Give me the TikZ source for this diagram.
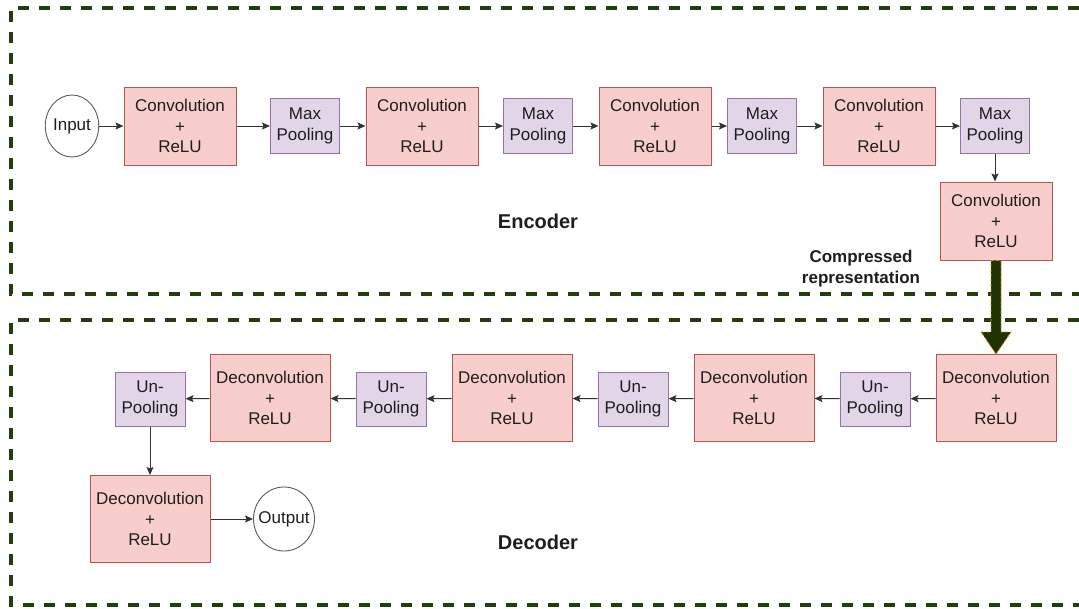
\documentclass[tikz,border=0pt]{standalone}
\usepackage{fontspec}
\setmainfont{Liberation Sans}
\usetikzlibrary{arrows.meta,calc,shapes.geometric}
\definecolor{convfill}{HTML}{F8CECC}
\definecolor{convline}{HTML}{B85450}
\definecolor{poolfill}{HTML}{E1D5E7}
\definecolor{poolline}{HTML}{9673A6}
\definecolor{frame}{HTML}{243D0E}
\definecolor{txt}{HTML}{1E1E1E}
\definecolor{wire}{HTML}{333333}
\definecolor{bigarrow}{HTML}{1F3300}
\definecolor{bigedge}{HTML}{C9892A}
\begin{document}
\begin{tikzpicture}[x=1pt,y=-1pt,
  every node/.style={text=txt,font=\fontsize{17}{20.5}\selectfont,align=center,inner sep=0pt},
  convbox/.style={draw=convline,fill=convfill,line width=1pt,minimum width=112pt,minimum height=78pt},
  deconvbox/.style={draw=convline,fill=convfill,line width=1pt,minimum width=120pt,minimum height=87pt},
  poolbox/.style={draw=poolline,fill=poolfill,line width=1pt,minimum width=69pt,minimum height=55pt},
  term/.style={draw=wire!80,fill=white,line width=0.9pt,ellipse},
  link/.style={draw=wire,line width=1pt,-{Stealth[length=8pt,width=7pt,inset=1.5pt]}},
  framed/.style={draw=frame,line width=3.8pt,dash pattern=on 11pt off 10pt},
  heading/.style={font=\fontsize{20}{24}\selectfont\bfseries},
  note/.style={font=\fontsize{17}{21}\selectfont\bfseries}]
\useasboundingbox (0,0) rectangle (1079,608);

% encoder and decoder frames
\draw[framed] (1079,8) -- (11,8) -- (11,294) -- (1079,294);
\draw[framed] (1079,320) -- (11,320) -- (11,605) -- (1079,605);

% encoder
\node[term,minimum width=52pt,minimum height=62pt] (in) at (72,126) {Input};
\node[convbox] (c1) at (180,126) {Convolution\\+\\ReLU};
\node[poolbox] (p1) at (305,126) {Max\\Pooling};
\node[convbox] (c2) at (422,126) {Convolution\\+\\ReLU};
\node[poolbox] (p2) at (538,126) {Max\\Pooling};
\node[convbox] (c3) at (655,126) {Convolution\\+\\ReLU};
\node[poolbox] (p3) at (762,126) {Max\\Pooling};
\node[convbox] (c4) at (879,126) {Convolution\\+\\ReLU};
\node[poolbox] (p4) at (995,126) {Max\\Pooling};
\node[convbox] (c5) at (996,221) {Convolution\\+\\ReLU};
\node[heading] (enc) at (538,221) {Encoder};
\node[note] (cr) at (861,269) {Compressed\\representation};

% decoder
\node[deconvbox] (d1) at (996,398) {Deconvolution\\+\\ReLU};
\node[poolbox,minimum width=70pt,minimum height=54pt] (u1) at (875,399) {Un-\\Pooling};
\node[deconvbox] (d2) at (754,398) {Deconvolution\\+\\ReLU};
\node[poolbox,minimum width=70pt,minimum height=54pt] (u2) at (633,399) {Un-\\Pooling};
\node[deconvbox] (d3) at (512,398) {Deconvolution\\+\\ReLU};
\node[poolbox,minimum width=70pt,minimum height=54pt] (u3) at (391,399) {Un-\\Pooling};
\node[deconvbox] (d4) at (270,398) {Deconvolution\\+\\ReLU};
\node[poolbox,minimum width=70pt,minimum height=54pt] (u4) at (150,399) {Un-\\Pooling};
\node[deconvbox] (d5) at (150,519) {Deconvolution\\+\\ReLU};
\node[term,inner xsep=-4.5pt,minimum width=61pt,minimum height=64pt] (out) at (284,519) {Output};
\node[heading] (dec) at (538,542) {Decoder};

% encoder flow
\draw[link] (in) -- (c1);
\draw[link] (c1) -- (p1);
\draw[link] (p1) -- (c2);
\draw[link] (c2) -- (p2);
\draw[link] (p2) -- (c3);
\draw[link] (c3) -- (p3);
\draw[link] (p3) -- (c4);
\draw[link] (c4) -- (p4);
\draw[link] (p4.south) -- (p4.south |- c5.north);

% bottleneck arrow
\filldraw[fill=bigarrow,draw=bigedge,line width=0.8pt,dash pattern=on 3pt off 2pt]
  ($(c5.south)+(-5,0)$) -- ($(c5.south)+(5,0)$) -- ($(d1.north)+(5,-22)$)
  -- ($(d1.north)+(15,-22)$) -- (d1.north) -- ($(d1.north)+(-15,-22)$)
  -- ($(d1.north)+(-5,-22)$) -- cycle;

% decoder flow
\draw[link] (d1) -- (u1);
\draw[link] (u1) -- (d2);
\draw[link] (d2) -- (u2);
\draw[link] (u2) -- (d3);
\draw[link] (d3) -- (u3);
\draw[link] (u3) -- (d4);
\draw[link] (d4) -- (u4);
\draw[link] (u4) -- (d5);
\draw[link] (d5) -- (out);
\end{tikzpicture}
\end{document}
